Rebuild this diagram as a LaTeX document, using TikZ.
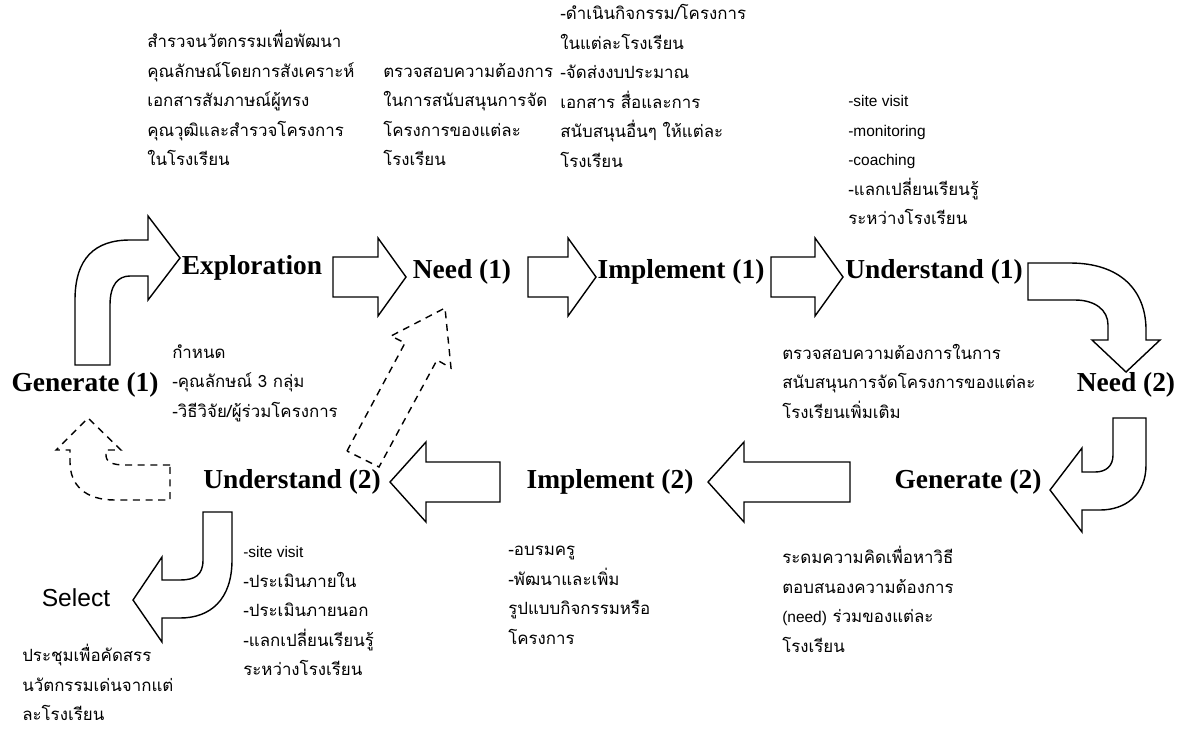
\documentclass[tikz,border=0pt]{standalone}
\usepackage{fontspec}
\setmainfont{Liberation Serif}
\newfontfamily\thaifont[Script=Thai]{Loma}
\newfontfamily\latinsans{Liberation Sans}
\begin{document}
\begin{tikzpicture}[x=0.025cm, y=-0.025cm,
    stage/.style={font=\fontsize{19.5}{22}\selectfont\bfseries, inner sep=0pt},
    note/.style={font=\thaifont\fontsize{12}{21}\selectfont, align=left, anchor=north west, inner sep=0pt},
    blockarrow/.style={draw, line width=1pt, line join=miter, fill=white},
    hintarrow/.style={draw, line width=1pt, dash pattern=on 5pt off 4pt}]
\useasboundingbox (0,0) rectangle (1187,731);

% stages
\node[stage] (explore) at (252,268) {Exploration};
\node[stage] (need1) at (462,272) {Need (1)};
\node[stage] (impl1) at (681,272) {Implement (1)};
\node[stage] (under1) at (934,272) {Understand (1)};
\node[stage] (gen1) at (85,385) {Generate (1)};
\node[stage] (need2) at (1126,385) {Need (2)};
\node[stage] (gen2) at (968,482) {Generate (2)};
\node[stage] (impl2) at (610,482) {Implement (2)};
\node[stage] (under2) at (292,482) {Understand (2)};
\node[font=\latinsans\fontsize{17.5}{20}\selectfont, inner sep=0pt] (select) at (76,598) {Select};

% notes
\node[note] (exploretxt) at (147,30) {สำรวจนวัตกรรมเพื่อพัฒนา\\คุณลักษณ์โดยการสังเคราะห์\\เอกสารสัมภาษณ์ผู้ทรง\\คุณวุฒิและสำรวจโครงการ\\ในโรงเรียน};
\node[note] (need1txt) at (383,63) {ตรวจสอบความต้องการ\\ในการสนับสนุนการจัด\\โครงการของแต่ละ\\โรงเรียน};
\node[note] (impl1txt) at (560,4) {-ดำเนินกิจกรรม/โครงการ\\ในแต่ละโรงเรียน\\-จัดส่งงบประมาณ\\เอกสาร สื่อและการ\\สนับสนุนอื่นๆ ให้แต่ละ\\โรงเรียน};
\node[note] (under1txt) at (848,95) {{\latinsans\fontsize{11}{21}\selectfont -site visit}\\{\latinsans\fontsize{11}{21}\selectfont -monitoring}\\{\latinsans\fontsize{11}{21}\selectfont -coaching}\\-แลกเปลี่ยนเรียนรู้\\ระหว่างโรงเรียน};
\node[note] (gen1txt) at (172,344) {กำหนด\\-คุณลักษณ์ 3 กลุ่ม\\-วิธีวิจัย/ผู้ร่วมโครงการ};
\node[note] (need2txt) at (782,344) {ตรวจสอบความต้องการในการ\\สนับสนุนการจัดโครงการของแต่ละ\\โรงเรียนเพิ่มเติม};
\node[note] (under2txt) at (243,546) {{\latinsans\fontsize{11}{21}\selectfont -site visit}\\-ประเมินภายใน\\-ประเมินภายนอก\\-แลกเปลี่ยนเรียนรู้\\ระหว่างโรงเรียน};
\node[note] (impl2txt) at (508,546) {-อบรมครู\\-พัฒนาและเพิ่ม\\รูปแบบกิจกรรมหรือ\\โครงการ};
\node[note] (gen2txt) at (782,546) {ระดมความคิดเพื่อหาวิธี\\ตอบสนองความต้องการ\\{\latinsans\fontsize{11}{21}\selectfont (need)} ร่วมของแต่ละ\\โรงเรียน};
\node[note] (selecttxt) at (22,644) {ประชุมเพื่อคัดสรร\\นวัตกรรมเด่นจากแต่\\ละโรงเรียน};

% straight block arrows
\foreach \xs/\xt in {333/406, 528/596, 771/843}
  \draw[blockarrow] (\xs,257) -- (\xt-28,257) -- (\xt-28,238) -- (\xt,277) -- (\xt-28,316) -- (\xt-28,297) -- (\xs,297) -- cycle;
\foreach \xs/\xt in {850/708, 500/390}
  \draw[blockarrow] (\xs,462) -- (\xt+36,462) -- (\xt+36,442) -- (\xt,482) -- (\xt+36,522) -- (\xt+36,502) -- (\xs,502) -- cycle;

% bent block arrows
\draw[blockarrow] (75,365) -- (75,300) .. controls (75,258) and (95,240) .. (130,240) -- (148,240) -- (148,216) -- (180,258) -- (148,300) -- (148,276) -- (130,276) .. controls (118,276) and (110,285) .. (110,305) -- (110,365) -- cycle;
\draw[blockarrow] (1028,263) -- (1070,263) .. controls (1120,263) and (1146,290) .. (1146,330) -- (1146,340) -- (1160,340) -- (1126,372) -- (1092,340) -- (1108,340) -- (1108,325) .. controls (1108,310) and (1095,300) .. (1075,300) -- (1028,300) -- cycle;
\draw[blockarrow] (1146,418) -- (1146,465) .. controls (1146,495) and (1125,510) .. (1100,510) -- (1082,510) -- (1082,532) -- (1050,490) -- (1082,448) -- (1082,472) -- (1095,472) .. controls (1106,472) and (1113,466) .. (1113,455) -- (1113,418) -- cycle;
\draw[blockarrow] (203,512) -- (232,512) -- (232,560) .. controls (232,600) and (210,618) .. (180,618) -- (162,618) -- (162,642) -- (133,600) -- (162,557) -- (162,580) -- (180,580) .. controls (195,580) and (203,575) .. (203,560) -- cycle;

% dashed feedback arrows
\draw[hintarrow] (347,451) -- (405,343) -- (391,336) -- (445,308) -- (451,368) -- (437,360) -- (379,467) -- cycle;
\draw[hintarrow] (170,465) -- (125,465) .. controls (112,465) and (106,462) .. (106,455) -- (106,450) -- (121,450) -- (88,418) -- (56,450) -- (70,450) -- (70,462) .. controls (70,485) and (85,500) .. (115,500) -- (170,500) -- cycle;
\end{tikzpicture}
\end{document}
